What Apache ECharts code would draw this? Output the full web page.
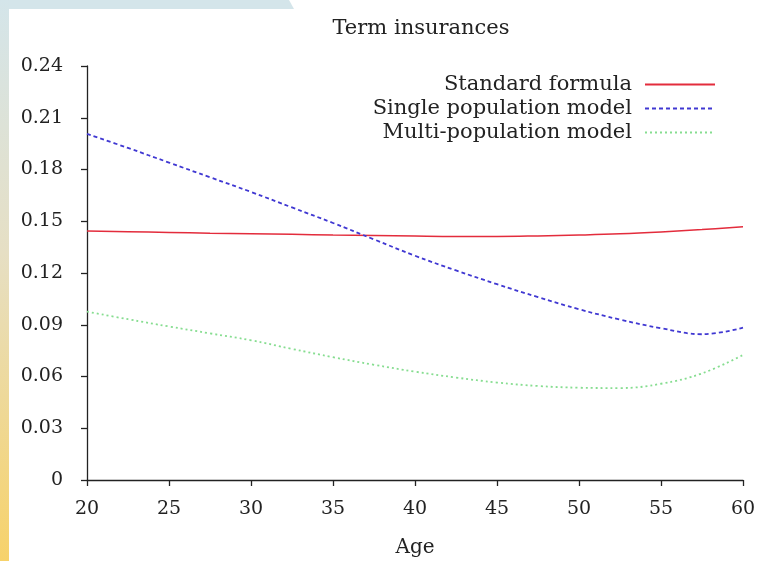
<!DOCTYPE html>
<html>
<head>
<meta charset="utf-8">
<style>html,body{margin:0;padding:0;background:#fff}#c{width:763px;height:561px}</style>
<script src="https://cdn.jsdelivr.net/npm/echarts@6/dist/echarts.min.js"></script>
</head>
<body>
<div id="c"></div>
<script>
const ages = [20, 22.5, 25, 27.5, 30, 32.5, 35, 37.5, 40, 42.5, 45, 47.5, 50, 52.5, 55, 57.5, 60];
const standardFormula = [0.1443, 0.1439, 0.1435, 0.1431, 0.1428, 0.1424, 0.1420, 0.1417, 0.1414, 0.1412, 0.1412, 0.1415, 0.1420, 0.1427, 0.1438, 0.1452, 0.1468];
const singlePop = [0.2006, 0.1925, 0.1840, 0.1755, 0.1670, 0.1580, 0.1490, 0.1395, 0.1300, 0.1215, 0.1135, 0.1060, 0.0990, 0.0930, 0.0880, 0.0845, 0.0883];
const multiPop = [0.0976, 0.0932, 0.0890, 0.0850, 0.0810, 0.0760, 0.0712, 0.0668, 0.0628, 0.0594, 0.0565, 0.0545, 0.0535, 0.0533, 0.0558, 0.0618, 0.0725];
const yTicks = [0, 0.03, 0.06, 0.09, 0.12, 0.15, 0.18, 0.21, 0.24];
const xTicks = [20, 25, 30, 35, 40, 45, 50, 55, 60];
const names = ['Standard formula', 'Single population model', 'Multi-population model'];

const FONT = 'DejaVu Serif';
const pair = (xs, ys) => xs.map((x, i) => [x, ys[i]]);

const chart = echarts.init(document.getElementById('c'), null, {renderer: 'canvas'});
chart.setOption({
  backgroundColor: '#ffffff',
  animation: false,
  graphic: [
    {type: 'polygon', silent: true, z: -10, shape: {points: [[0,0],[289,0],[294,9],[0,9]]}, style: {fill: '#d4e5ea'}},
    {type: 'rect', silent: true, z: -10, shape: {x: 0, y: 0, width: 9, height: 561},
     style: {fill: new echarts.graphic.LinearGradient(0, 0, 0, 1, [
       {offset: 0, color: '#d4e5ea'}, {offset: 0.45, color: '#e6dfc4'}, {offset: 1, color: '#f7d26a'}])}}
  ],
  title: {
    text: 'Term insurances', left: 416, top: 13, textAlign: 'center',
    textStyle: {fontFamily: FONT, fontSize: 21, fontWeight: 'normal', color: '#222'}
  },
  legend: {
    orient: 'vertical', right: 42, top: 69, align: 'right',
    itemWidth: 70, itemHeight: 12, itemGap: 3,
    itemStyle: {opacity: 0},
    textStyle: {fontFamily: FONT, fontSize: 21, color: '#222', padding: [0, 8, 0, 0]},
    data: names
  },
  grid: {left: 87, right: 20, top: 66, bottom: 81, containLabel: false, outerBoundsMode: 'none'},
  xAxis: {
    type: 'value', min: 20, max: 60, interval: 5,
    name: 'Age', nameLocation: 'middle', nameGap: 58,
    nameTextStyle: {fontFamily: FONT, fontSize: 20, color: '#222'},
    axisLine: {lineStyle: {color: '#222', width: 1.3}},
    axisTick: {show: true, length: 6, lineStyle: {color: '#222', width: 1.3}},
    axisLabel: {fontFamily: FONT, fontSize: 19, color: '#222', margin: 20,
      formatter: v => xTicks.includes(v) ? String(v) : ''},
    splitLine: {show: false}
  },
  yAxis: {
    type: 'value', min: 0, max: 0.24, interval: 0.03,
    axisLine: {show: true, lineStyle: {color: '#222', width: 1.3}},
    axisTick: {show: true, length: 6, lineStyle: {color: '#222', width: 1.3}},
    axisLabel: {fontFamily: FONT, fontSize: 19, color: '#222', margin: 24,
      formatter: v => { const t = yTicks.find(k => Math.abs(k - v) < 1e-9); return t === undefined ? '' : (t === 0 ? '0' : t.toFixed(2)); }},
    splitLine: {show: false}
  },
  series: [
    {name: names[0], type: 'line', data: pair(ages, standardFormula), smooth: 0.4, symbol: 'none',
     lineStyle: {color: '#e32c3c', width: 1.5, type: 'solid'}, itemStyle: {color: '#e32c3c'}},
    {name: names[1], type: 'line', data: pair(ages, singlePop), smooth: 0.4, symbol: 'none',
     lineStyle: {color: '#4038d2', width: 1.8, type: [4, 3]}, itemStyle: {color: '#4038d2'}},
    {name: names[2], type: 'line', data: pair(ages, multiPop), smooth: 0.4, symbol: 'none',
     lineStyle: {color: '#86dd90', width: 1.8, type: [2, 3]}, itemStyle: {color: '#86dd90'}}
  ]
});
</script>
</body>
</html>
